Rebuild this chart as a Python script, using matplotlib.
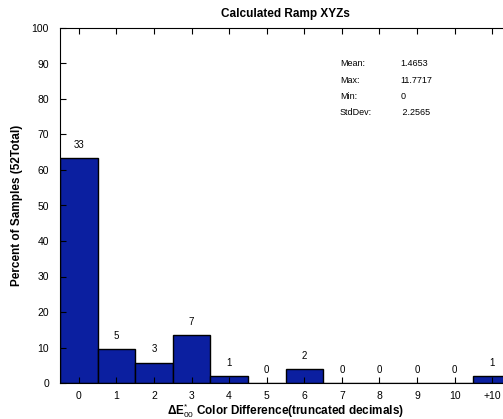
import numpy as np
import matplotlib
matplotlib.use('Agg')
import matplotlib.pyplot as plt

plt.rcParams['font.family'] = ['Liberation Sans', 'DejaVu Sans']
plt.rcParams['mathtext.fontset'] = 'custom'
plt.rcParams['mathtext.rm'] = 'Liberation Sans'
plt.rcParams['mathtext.bf'] = 'Liberation Sans:bold'
plt.rcParams['mathtext.it'] = 'Liberation Sans:italic'

# histogram of truncated colour differences
bins = ['0', '1', '2', '3', '4', '5', '6', '7', '8', '9', '10', '+10']
counts = [33, 5, 3, 7, 1, 0, 2, 0, 0, 0, 0, 1]
total = 52

stat_names = ['Mean:', 'Max:', 'Min:', 'StdDev:']
stat_values = ['1.4653', '11.7717', '0', ' 2.2565']

percent = np.array(counts) / total * 100
x = np.arange(len(bins))

fig = plt.figure(figsize=(5.03, 4.19), dpi=100)
ax = fig.add_axes([60 / 503, 36 / 419, 451 / 503, 355 / 419])

ax.bar(x, percent, width=1.0, color='#0b1fa0', edgecolor='black', linewidth=1.0)

for xi, p, c in zip(x, percent, counts):
    ax.annotate(str(c), (xi, p), xytext=(0, 9.5), textcoords='offset points',
                ha='center', va='center', fontsize=7)

ax.set_xlim(-0.5, 11.5)
ax.set_ylim(0, 100)
ax.set_xticks(x)
ax.set_xticklabels(bins)
ax.set_yticks(np.arange(0, 101, 10))
ax.tick_params(direction='in', length=4, width=0.8, labelsize=7.5, top=True)
ax.tick_params(axis='x', pad=6)
ax.tick_params(axis='y', pad=8)
for s in ax.spines.values():
    s.set_linewidth(0.8)

ax.set_title('Calculated Ramp XYZs', fontsize=8.5, fontweight='bold', pad=8)
ax.set_ylabel('Percent of Samples (52Total)', fontsize=8.5, fontweight='bold', labelpad=6)
ax.set_xlabel(r'$\mathbf{\Delta E}^{*}_{00}$ Color Difference(truncated decimals)',
              fontsize=8.5, fontweight='bold', labelpad=0)

# summary statistics box
ys = [89.9, 85.3, 80.7, 76.2]
for name, val, y in zip(stat_names, stat_values, ys):
    ax.text(6.95, y, name, fontsize=6.5, va='center', ha='left')
    ax.text(8.55, y, val, fontsize=6.5, va='center', ha='left')

fig.savefig('out.png', dpi=100)
